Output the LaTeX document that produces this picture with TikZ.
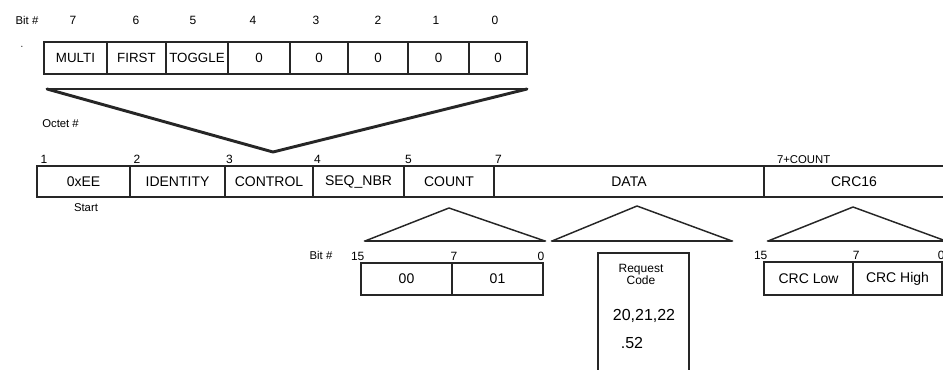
\documentclass[tikz,border=0pt]{standalone}
\usepackage{fontspec}
\setmainfont{Liberation Sans}
\begin{document}
\begin{tikzpicture}[x=0.75pt,y=-0.75pt,
  cell/.style={draw=black!85, line width=0.9pt, inner sep=0pt, font=\fontsize{10.5}{12}\selectfont},
  topcell/.style={cell, font=\fontsize{10}{12}\selectfont},
  cw/.style={minimum width=#1*0.75pt},
  ch/.style={minimum height=#1*0.75pt},
  lbl/.style={inner sep=0pt, font=\fontsize{9}{10}\selectfont},
  small/.style={inner sep=0pt, font=\fontsize{8.5}{9.5}\selectfont},
  side/.style={draw=black!85, line width=1.1pt, line join=round},
  heavy/.style={draw=black!85, line width=2.2pt, line join=round, line cap=round}
]
\useasboundingbox (0,0) rectangle (943,369);

% ---- top: bit layout of CONTROL ----
\node[small] (bitlbl) at (27,20) {Bit \#};
\node[small] (star) at (22,47) {$\cdot$};
\node[topcell, cw=63, ch=32] (multi)  at (75.5,58) {MULTI};
\node[topcell, cw=59, ch=32] (first)  at (136.5,58) {FIRST};
\node[topcell, cw=62, ch=32] (toggle) at (197,58) {TOGGLE};
\node[topcell, cw=62, ch=32] (b4) at (259,58) {0};
\node[topcell, cw=58, ch=32] (b3) at (319,58) {0};
\node[topcell, cw=60, ch=32] (b2) at (378,58) {0};
\node[topcell, cw=61, ch=32] (b1) at (438.5,58) {0};
\node[topcell, cw=58, ch=32] (b0) at (498,58) {0};
\node[lbl] (n7) at (73,20) {7};
\node[lbl] (n6) at (136,20) {6};
\node[lbl] (n5) at (193,20) {5};
\node[lbl] (n4) at (253,20) {4};
\node[lbl] (n3) at (316,20) {3};
\node[lbl] (n2) at (378,20) {2};
\node[lbl] (n1) at (436,20) {1};
\node[lbl] (n0) at (495,20) {0};

% inverted triangle down to CONTROL
\coordinate (vL) at (47,89);
\coordinate (vR) at (527,89);
\coordinate (vA) at (273,152);
\draw[side] (vL) -- (vR);
\draw[heavy] (vL) -- (vA) -- (vR);

% ---- main frame ----
\node[small, anchor=west] (octet) at (42,124) {Octet \#};
\node[cell, cw=93, ch=31]  (ee)   at (83.5,181.5) {0xEE};
\node[cell, cw=95, ch=31]  (ident) at (177.5,181.5) {IDENTITY};
\node[cell, cw=88, ch=31]  (ctrl) at (269,181.5) {CONTROL};
\node[cell, cw=91, ch=31]  (seq)  at (358.5,181.5) {SEQ\_NBR};
\node[cell, cw=90, ch=31]  (count) at (449,181.5) {COUNT};
\node[cell, cw=270, ch=31] (data) at (629,181.5) {DATA};
\node[cell, cw=180, ch=31] (crc)  at (854,181.5) {CRC16};
\node[small] (start) at (86,208) {Start};
\node[lbl, anchor=south west] (o1) at ([xshift=3pt,yshift=1pt]ee.north west) {1};
\node[lbl, anchor=south west] (o2) at ([xshift=3pt,yshift=1pt]ident.north west) {2};
\node[lbl, anchor=south west] (o3) at ([xshift=1pt,yshift=1pt]ctrl.north west) {3};
\node[lbl, anchor=south west] (o4) at ([xshift=1pt,yshift=1pt]seq.north west) {4};
\node[lbl, anchor=south west] (o5) at ([xshift=1pt,yshift=1pt]count.north west) {5};
\node[lbl, anchor=south west] (o7) at ([xshift=1pt,yshift=1pt]data.north west) {7};
\node[small, anchor=south west] (o7c) at ([xshift=10pt,yshift=1pt]crc.north west) {7+COUNT};

% ---- upward triangles ----
\coordinate (t1L) at (365,241); \coordinate (t1A) at (449,208); \coordinate (t1R) at (545,241);
\coordinate (t2L) at (552,241); \coordinate (t2A) at (637,206); \coordinate (t2R) at (732,241);
\coordinate (t3L) at (768,241); \coordinate (t3A) at (853,207); \coordinate (t3R) at (946,241);
\draw[side] (t1L) -- (t1A) -- (t1R);
\draw[heavy] (t1L) -- (t1R);
\draw[side] (t2L) -- (t2A) -- (t2R);
\draw[heavy] (t2L) -- (t2R);
\draw[side] (t3L) -- (t3A) -- (t3R);
\draw[heavy] (t3L) -- (t3R);

% ---- COUNT bits ----
\node[small] (bitlbl2) at (321,255) {Bit \#};
\node[cell, cw=91, ch=32] (c00) at (406.5,279) {00};
\node[cell, cw=91, ch=32] (c01) at (497.5,279) {01};
\node[lbl, anchor=south] (c15) at ([xshift=-2pt,yshift=1.5pt]c00.north west) {15};
\node[lbl, anchor=south] (c7)  at ([xshift=1pt,yshift=1.5pt]c00.north east) {7};
\node[lbl, anchor=south] (c0)  at ([xshift=-2pt,yshift=1.5pt]c01.north east) {0};

% ---- DATA: request code ----
\node[cell, cw=91, ch=130] (req) at (643.5,318) {};
\node[inner sep=0pt, align=center, anchor=north, font=\fontsize{9}{10}\selectfont] (reqt) at (641,264) {Request\\[-1pt]Code};
\node[inner sep=0pt, font=\fontsize{12}{14}\selectfont] (codes) at (644,316) {20,21,22};
\node[inner sep=0pt, font=\fontsize{12}{14}\selectfont] (c52) at (632,343) {.52};

% ---- CRC bytes ----
\node[cell, cw=89, ch=33] (crclo) at (808.5,278.5) {CRC Low};
\node[cell, cw=89, ch=33] (crchi) at (897.5,278.5) {CRC High};
\node[lbl, anchor=south] (r15) at ([xshift=-2pt,yshift=1.5pt]crclo.north west) {15};
\node[lbl, anchor=south] (r7)  at ([xshift=2pt,yshift=1.5pt]crclo.north east) {7};
\node[lbl, anchor=south] (r0)  at ([xshift=-1pt,yshift=1.5pt]crchi.north east) {0};
\end{tikzpicture}
\end{document}
